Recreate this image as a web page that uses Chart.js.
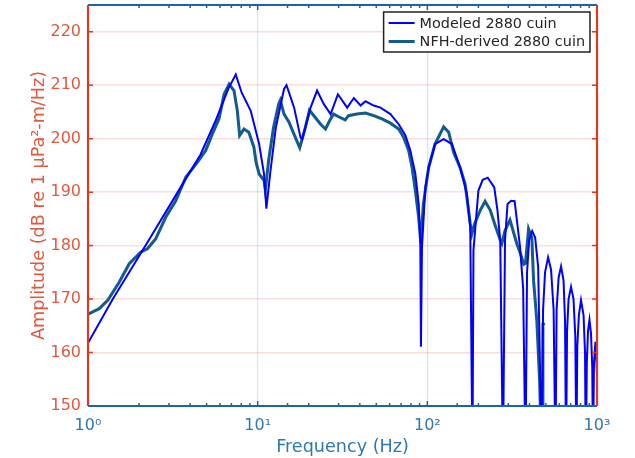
<!DOCTYPE html>
<html>
<head>
<meta charset="utf-8">
<script src="https://cdn.jsdelivr.net/npm/chart.js@4.4.1/dist/chart.umd.min.js"></script>
<style>
  html, body { margin: 0; padding: 0; background: #fff; }
  #wrap { width: 635px; height: 458px; position: relative; }
</style>
</head>
<body>
<div id="wrap"><canvas id="spectrumChart"></canvas></div>
<script>
// frequency (Hz) / level (dB)
const modeledFreq = [1.00, 1.40, 2.28, 3.38, 4.60, 5.66, 6.75, 7.43, 8.05, 9.10, 10.2, 10.9, 11.25, 11.9, 12.8, 14.3, 14.8, 16.4, 17.9, 18.3,
  20.5, 22.4, 24.5, 26.9, 29.7, 33.7, 36.9, 40.4, 43.2, 48.3, 52.9, 60.6, 67.8, 74.3, 79.4, 85.0, 88.9, 90.9, 91.7, 93.0,
  97.3, 101.8, 111, 124.8, 139.7, 156, 171, 179, 184.5, 187, 200, 212, 227, 248, 259, 269, 279, 287, 297, 312,
  327, 352, 367, 379, 387, 398, 415, 432, 450, 472, 481, 494, 515, 536, 555, 569, 578, 594, 614, 635,
  648, 657, 666, 680, 703, 727, 745, 756, 765, 782, 805, 833, 850, 859, 871, 885, 903, 922, 938, 947,
  960, 979, 1000];
const modeledDb = [161.8, 170.0, 181.0, 190.0, 197.0, 203.4, 209.5, 212.0, 208.6, 205.2, 199.0, 193.4, 186.9, 194.0, 202.1, 209.3, 210.0, 205.8, 200.2, 199.9,
  205.8, 209.0, 206.5, 204.6, 208.3, 205.8, 207.6, 206.2, 207.0, 206.2, 205.8, 204.6, 202.7, 200.6, 197.8, 193.4, 187.8, 181.0, 161.1, 179.7,
  190.9, 194.6, 199.0, 199.9, 199.0, 194.6, 189.7, 183.5, 140, 179.1, 190.3, 192.3, 192.7, 190.9, 186.6, 181.0, 140, 181.0, 187.8, 188.4,
  188.3, 179.7, 172.0, 140, 175.0, 181.0, 182.7, 181.5, 176.0, 140, 168.0, 175.0, 177.8, 175.5, 168.0, 140, 168.0, 174.0, 176.1, 173.5,
  166.0, 140, 164.0, 170.0, 172.3, 170.0, 163.0, 140, 161.0, 167.0, 169.8, 167.0, 160.0, 140, 158.0, 164.0, 166.1, 163.5, 157.0, 140,
  158.0, 162.0, 156.0];

const nfhFreq = [1.00, 1.165, 1.31, 1.53, 1.75, 2.05, 2.24, 2.51, 2.87, 3.29, 3.77, 4.42, 4.94, 5.41, 5.92, 6.34, 6.79, 7.25, 7.59, 7.83,
  8.30, 8.87, 9.50, 9.80, 10.2, 10.9, 11.1, 11.6, 12.4, 13.3, 13.6, 14.3, 15.3, 16.7, 17.7, 19.1, 20.2, 21.8, 23.5, 25.1,
  26.6, 28.0, 30.0, 32.8, 34.3, 38.4, 43.2, 48.3, 54.0, 60.6, 67.8, 72.6, 77.6, 81.2, 85.0, 88.9, 91.5, 94.8, 101.8, 111,
  124.8, 133.6, 143, 156, 167, 179, 183, 190, 205, 219, 235, 251, 269, 275, 287, 307, 322, 338, 352, 370,
  379, 395, 406, 413, 423, 442, 459, 468, 476, 480, 492];
const nfhDb = [167.2, 168.2, 169.8, 173.2, 176.6, 178.8, 179.4, 181.3, 185.3, 188.4, 192.8, 195.6, 197.8, 200.9, 203.7, 208.3, 210.2, 209.0, 205.2, 200.6,
  201.8, 201.2, 198.4, 195.5, 193.4, 192.2, 190.3, 195.9, 202.1, 206.5, 207.2, 204.6, 203.1, 200.2, 198.3, 202.1, 205.3, 204.0, 202.7, 201.8,
  203.4, 204.6, 204.1, 203.5, 204.3, 204.6, 204.8, 204.3, 203.7, 202.9, 201.8, 200.2, 197.8, 194.7, 190.3, 185.3, 180.5, 187.8, 194.6, 199.0,
  202.2, 201.2, 197.4, 194.6, 191.5, 184.1, 182.2, 184.1, 186.6, 188.3, 186.6, 183.8, 181.0, 180.4, 182.8, 184.8, 182.5, 180.2, 178.7, 176.5,
  176.7, 183.1, 182.1, 181.5, 173.4, 165.9, 154.7, 145, 150, 165.3, 165.5];

const yTicks = [150, 160, 170, 180, 190, 200, 210, 220];
const xDecades = [1, 10, 100, 1000];
const supDigits = ['\u2070', '\u00b9', '\u00b2', '\u00b3'];

const leftColor = '#dc3a22';
const leftText = '#e05a40';
const bottomColor = '#1d64a6';
const bottomText = '#2f78b4';

function toPoints(fs, vs) {
    return fs.map((f, i) => ({ x: f, y: vs[i] }));
}

// MATLAB style box: inward ticks on all four sides, colored edges, legend in the corner
const framePlugin = {
    id: 'frame',
    afterDraw(chart) {
        const { ctx, chartArea: { left, right, top, bottom }, scales: { x, y } } = chart;
        ctx.save();

        ctx.lineWidth = 1.5;
        ctx.strokeStyle = leftColor;
        yTicks.forEach(v => {
            const py = y.getPixelForValue(v);
            ctx.beginPath();
            ctx.moveTo(left, py); ctx.lineTo(left + 5, py);
            ctx.moveTo(right, py); ctx.lineTo(right - 5, py);
            ctx.stroke();
        });

        ctx.strokeStyle = bottomColor;
        x.ticks.forEach(t => {
            const px = x.getPixelForValue(t.value);
            const major = xDecades.includes(t.value);
            const len = major ? 5 : 3;
            ctx.beginPath();
            ctx.moveTo(px, bottom); ctx.lineTo(px, bottom - len);
            ctx.moveTo(px, top); ctx.lineTo(px, top + len);
            ctx.stroke();
        });

        ctx.lineWidth = 2.2;
        ctx.strokeStyle = bottomColor;
        ctx.beginPath();
        ctx.moveTo(left, top); ctx.lineTo(right, top);
        ctx.moveTo(left, bottom); ctx.lineTo(right, bottom);
        ctx.stroke();
        ctx.strokeStyle = leftColor;
        ctx.beginPath();
        ctx.moveTo(left, top); ctx.lineTo(left, bottom);
        ctx.moveTo(right, top); ctx.lineTo(right, bottom);
        ctx.stroke();

        // legend
        ctx.font = '14.4px "DejaVu Sans"';
        const items = chart.data.datasets;
        const textW = Math.max(...items.map(d => ctx.measureText(d.label).width));
        const boxW = 36 + textW + 5;
        const boxH = 40;
        const bx = right - 7 - boxW;
        const by = top + 7;
        ctx.fillStyle = '#fff';
        ctx.fillRect(bx, by, boxW, boxH);
        ctx.lineWidth = 1.5;
        ctx.strokeStyle = '#222';
        ctx.strokeRect(bx, by, boxW, boxH);
        ctx.textBaseline = 'middle';
        ctx.textAlign = 'left';
        items.forEach((d, i) => {
            const cy = by + 11 + i * 18.5;
            ctx.strokeStyle = d.borderColor;
            ctx.lineWidth = d.borderWidth;
            ctx.beginPath();
            ctx.moveTo(bx + 5, cy); ctx.lineTo(bx + 31, cy);
            ctx.stroke();
            ctx.fillStyle = '#262626';
            ctx.fillText(d.label, bx + 36, cy + 1);
        });
        ctx.restore();
    }
};

const ctx = document.getElementById('spectrumChart');
const chart = new Chart(ctx, {
    type: 'line',
    data: {
        datasets: [{
            label: 'Modeled 2880 cuin',
            data: toPoints(modeledFreq, modeledDb),
            borderColor: '#0000ff',
            borderWidth: 2,
            pointRadius: 0,
            tension: 0,
            clip: 0
        }, {
            label: 'NFH-derived 2880 cuin',
            data: toPoints(nfhFreq, nfhDb),
            borderColor: '#125b8c',
            borderWidth: 3,
            pointRadius: 0,
            tension: 0,
            clip: 0
        }]
    },
    options: {
        responsive: true,
        maintainAspectRatio: false,
        animation: false,
        devicePixelRatio: 1,
        layout: { padding: { top: 5, right: 38, left: 0, bottom: 0 } },
        plugins: {
            legend: { display: false },
            tooltip: { enabled: false }
        },
        scales: {
            x: {
                type: 'logarithmic',
                position: 'bottom',
                min: 1,
                max: 1000,
                afterFit: scale => {
                    scale.height = 52;
                    scale.paddingLeft = 0;
                    scale.paddingRight = 0;
                },
                border: { display: false },
                grid: {
                    drawTicks: false,
                    color: c => (c.tick && (c.tick.value === 10 || c.tick.value === 100)) ? 'rgba(40,110,170,0.18)' : 'rgba(0,0,0,0)',
                    lineWidth: 1.2
                },
                ticks: {
                    autoSkip: false,
                    maxRotation: 0,
                    padding: 10,
                    color: bottomText,
                    font: { family: 'DejaVu Sans', size: 16 },
                    callback: function(value) {
                        const idx = xDecades.indexOf(value);
                        return idx >= 0 ? '10' + supDigits[idx] : '';
                    }
                },
                title: {
                    display: true,
                    text: 'Frequency (Hz)',
                    color: bottomText,
                    font: { family: 'DejaVu Sans', size: 17.6 },
                    padding: { top: 0, bottom: 0 }
                }
            },
            y: {
                min: 150,
                max: 225,
                afterFit: scale => {
                    scale.width = 88;
                    scale.paddingTop = 0;
                    scale.paddingBottom = 0;
                },
                afterBuildTicks: scale => {
                    scale.ticks = yTicks.map(v => ({ value: v }));
                },
                border: { display: false },
                grid: {
                    drawTicks: false,
                    color: 'rgba(230,90,70,0.2)',
                    lineWidth: 1.5
                },
                ticks: {
                    padding: 7,
                    color: leftText,
                    font: { family: 'DejaVu Sans', size: 16 }
                },
                title: {
                    display: true,
                    text: 'Amplitude (dB re 1 \u03bcPa\u00b2-m/Hz)',
                    color: leftText,
                    font: { family: 'DejaVu Sans', size: 17.6 },
                    padding: { top: 29, bottom: 0 }
                }
            }
        }
    },
    plugins: [framePlugin]
});
</script>
</body>
</html>
